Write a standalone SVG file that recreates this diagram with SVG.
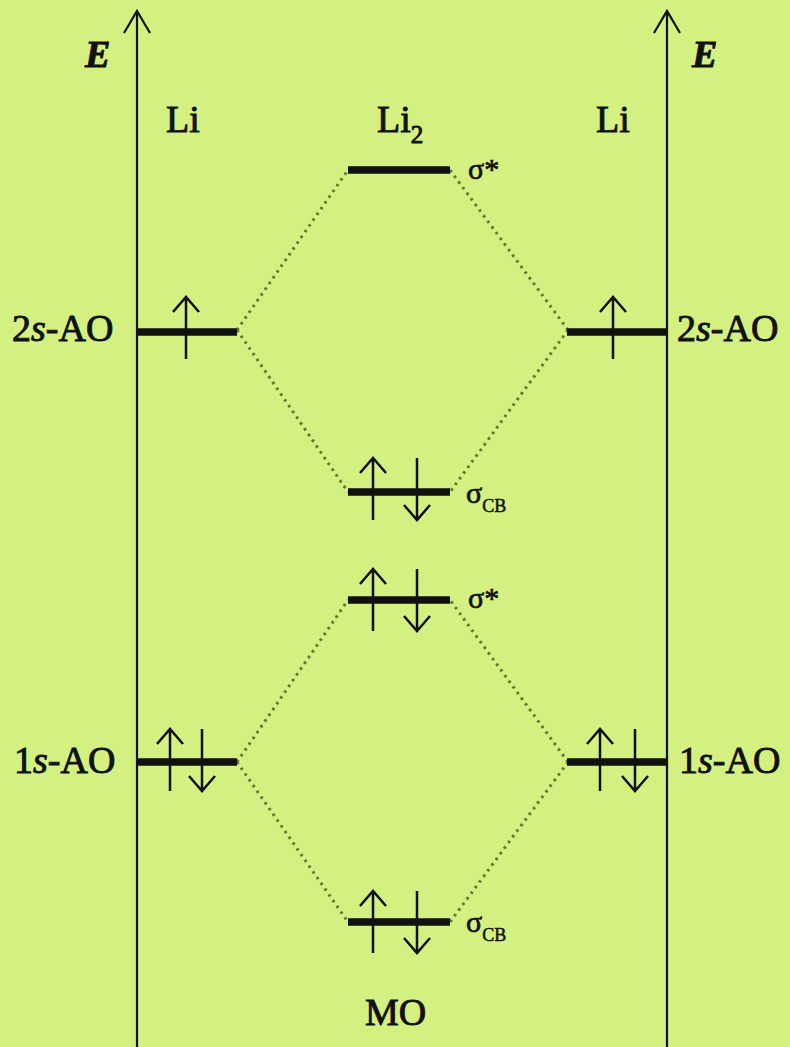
<svg xmlns="http://www.w3.org/2000/svg" width="790" height="1047" viewBox="0 0 790 1047">
<defs>
<style>
.bg{fill:#d4f081}
.axis{stroke:#111;stroke-width:2.2;fill:none}
.lvl{stroke:#111;stroke-width:7.5}
.spin{stroke:#111;stroke-width:2.5;fill:none}
.dot{stroke:#5d7a35;stroke-width:3;stroke-dasharray:2.6 4.4;fill:none}
.t{font-family:"Liberation Serif","Times New Roman",serif;font-size:38px;fill:#111;stroke:#111;stroke-width:0.9}
.s{font-family:"Liberation Serif","Times New Roman",serif;font-size:30px;fill:#111;stroke:#111;stroke-width:0.7}
.sub{font-size:18px;stroke-width:0.5}
</style>
<g id="up"><path class="spin" d="M0,30 V-32 M-13,-17 L0,-32 L13,-17"/></g>
<g id="down"><path class="spin" d="M0,-32 V30 M-13,15 L0,30 L13,15"/></g>
</defs>
<rect class="bg" x="0" y="0" width="790" height="1047"/>

<g id="connectors">
<line class="dot" x1="237" y1="330" x2="348" y2="170"/>
<line class="dot" x1="568" y1="330" x2="450" y2="170"/>
<line class="dot" x1="237" y1="330" x2="348" y2="492"/>
<line class="dot" x1="568" y1="330" x2="450" y2="492"/>
<line class="dot" x1="237" y1="762" x2="348" y2="600"/>
<line class="dot" x1="568" y1="762" x2="450" y2="600"/>
<line class="dot" x1="237" y1="762" x2="348" y2="922"/>
<line class="dot" x1="568" y1="762" x2="450" y2="922"/>
</g>

<g id="axis-left">
<path class="axis" d="M137,1047 V11 M124,33 L137,11 L150,33"/>
<text class="t" x="85" y="67" font-style="italic" font-weight="bold">E</text>
</g>
<g id="axis-right">
<path class="axis" d="M667,1047 V11 M654,33 L667,11 L680,33"/>
<text class="t" x="692" y="67" font-style="italic" font-weight="bold">E</text>
</g>

<g id="label-li-left"><text class="t" x="166" y="132">Li</text></g>
<g id="label-li2"><text class="t" x="377" y="132">Li<tspan style="font-size:25px" dy="11">2</tspan></text></g>
<g id="label-li-right"><text class="t" x="596" y="132">Li</text></g>

<g id="sigma-star-top">
<line class="lvl" x1="348" y1="170" x2="450" y2="170"/>
<text class="s" x="468" y="179">σ*</text>
</g>

<g id="ao-2s-left">
<line class="lvl" x1="137" y1="332" x2="237" y2="332"/>
<use href="#up" x="186" y="329"/>
<text class="t" x="12" y="341">2<tspan font-style="italic">s</tspan>-AO</text>
</g>
<g id="ao-2s-right">
<line class="lvl" x1="567" y1="332" x2="667" y2="332"/>
<use href="#up" x="613" y="329"/>
<text class="t" x="677" y="341">2<tspan font-style="italic">s</tspan>-AO</text>
</g>

<g id="sigma-cb-upper">
<line class="lvl" x1="348" y1="492" x2="450" y2="492"/>
<use href="#up" x="373" y="490"/>
<use href="#down" x="417" y="490"/>
<text class="s" x="466" y="503">σ<tspan class="sub" dy="9">CB</tspan></text>
</g>

<g id="sigma-star-lower">
<line class="lvl" x1="348" y1="600" x2="450" y2="600"/>
<use href="#up" x="373" y="601"/>
<use href="#down" x="417" y="601"/>
<text class="s" x="468" y="608">σ*</text>
</g>

<g id="ao-1s-left">
<line class="lvl" x1="137" y1="762" x2="237" y2="762"/>
<use href="#up" x="170" y="761"/>
<use href="#down" x="202" y="761"/>
<text class="t" x="14" y="773">1<tspan font-style="italic">s</tspan>-AO</text>
</g>
<g id="ao-1s-right">
<line class="lvl" x1="567" y1="762" x2="667" y2="762"/>
<use href="#up" x="600" y="761"/>
<use href="#down" x="635" y="761"/>
<text class="t" x="679" y="773">1<tspan font-style="italic">s</tspan>-AO</text>
</g>

<g id="sigma-cb-lower">
<line class="lvl" x1="348" y1="922" x2="450" y2="922"/>
<use href="#up" x="373" y="923"/>
<use href="#down" x="417" y="923"/>
<text class="s" x="466" y="932">σ<tspan class="sub" dy="9">CB</tspan></text>
</g>

<g id="label-mo"><text class="t" x="365" y="1025">MO</text></g>
</svg>
